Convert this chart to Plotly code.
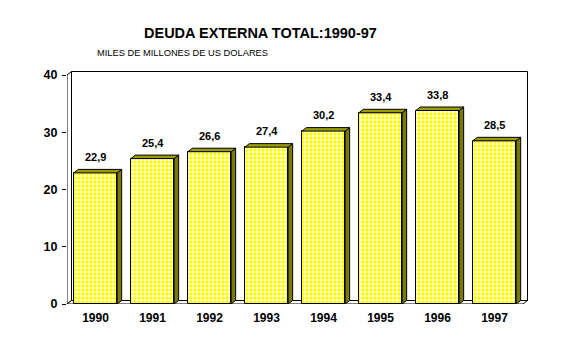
import plotly.graph_objects as go

years = ["1990", "1991", "1992", "1993", "1994", "1995", "1996", "1997"]
values = [22.9, 25.4, 26.6, 27.4, 30.2, 33.4, 33.8, 28.5]
labels = ["22,9", "25,4", "26,6", "27,4", "30,2", "33,4", "33,8", "28,5"]
y_ticks = [0, 10, 20, 30, 40]

W, H = 571, 350
ml, mr, mt, mb = 67, 41, 70, 46
n = len(years)
x0, x1 = -0.5, n - 0.5
ymax = 40
plot_w = W - ml - mr
plot_h = H - mt - mb
px_per_x = (W - ml - 48) / n          # category band width in px
px_per_y = (H - mb - 75) / ymax       # 0 at bottom, 40 at y=75
xr = [x0, x0 + plot_w / px_per_x]
yr = [0, plot_h / px_per_y]

DX = 4.5 / px_per_x
DY = 3.5 / px_per_y
BW = 0.76
FONT = "Liberation Sans, Arial, sans-serif"


def px_to_paper(px, py):
    return (px - ml) / plot_w, (H - mb - py) / plot_h


fig = go.Figure()

fig.add_trace(go.Bar(
    x=list(range(n)), y=values, width=BW,
    marker=dict(color="#FFFF00", line=dict(color="black", width=1),
                pattern=dict(shape=".", bgcolor="#FFFF00", fgcolor="white",
                             size=4, solidity=0.45, fillmode="replace")),
    hoverinfo="skip", showlegend=False,
))

for i, v in enumerate(values):
    r = i + BW / 2
    l = i - BW / 2
    # side face
    fig.add_trace(go.Scatter(
        x=[r, r + DX, r + DX, r, r], y=[0, DY, v + DY, v, 0],
        mode="lines", fill="toself", fillcolor="#7A7A00",
        line=dict(color="black", width=1), hoverinfo="skip", showlegend=False))
    # top face
    fig.add_trace(go.Scatter(
        x=[l, r, r + DX, l + DX, l], y=[v, v, v + DY, v + DY, v],
        mode="lines", fill="toself", fillcolor="#9C9C00",
        line=dict(color="black", width=1), hoverinfo="skip", showlegend=False))

shapes = [
    # back wall
    dict(type="rect", xref="x", yref="y", x0=x0 + DX, y0=DY, x1=x1 + DX, y1=ymax + DY,
         fillcolor="white", line=dict(color="black", width=1), layer="below"),
    # left wall
    dict(type="path", xref="x", yref="y",
         path=f"M {x0},0 L {x0},{ymax} L {x0+DX},{ymax+DY} L {x0+DX},{DY} Z",
         fillcolor="white", line=dict(color="black", width=1), layer="below"),
    # floor
    dict(type="path", xref="x", yref="y",
         path=f"M {x0},0 L {x1},0 L {x1+DX},{DY} L {x0+DX},{DY} Z",
         fillcolor="white", line=dict(color="black", width=1), layer="below"),
]

annotations = []
for i, (v, t) in enumerate(zip(values, labels)):
    annotations.append(dict(x=i, y=v, xref="x", yref="y", text=f"<b>{t}</b>",
                            showarrow=False, yanchor="bottom", yshift=8,
                            font=dict(family=FONT, size=11, color="black")))
tx, ty = px_to_paper(260, 33)
annotations.append(dict(x=tx, y=ty, xref="paper", yref="paper",
                        text="<b>DEUDA EXTERNA TOTAL:1990-97</b>", showarrow=False,
                        xanchor="center", yanchor="middle",
                        font=dict(family=FONT, size=14.5, color="black")))
sx, sy = px_to_paper(95, 53)
annotations.append(dict(x=sx, y=sy, xref="paper", yref="paper",
                        text="MILES DE MILLONES DE US DOLARES", showarrow=False,
                        xanchor="left", yanchor="middle",
                        font=dict(family=FONT, size=9.3, color="black")))

fig.update_layout(
    width=W, height=H,
    margin=dict(l=ml, r=mr, t=mt, b=mb, pad=0),
    paper_bgcolor="white", plot_bgcolor="white",
    shapes=shapes, annotations=annotations,
    bargap=0,
    xaxis=dict(range=xr, tickvals=list(range(n)), ticktext=[f"<b>{y}</b>" for y in years],
               showgrid=False, zeroline=False, showline=False, ticks="",
               ticklabelstandoff=5,
               tickfont=dict(family=FONT, size=12, color="black"), fixedrange=True),
    yaxis=dict(range=yr, tickvals=y_ticks, ticktext=[f"<b>{t}</b>" for t in y_ticks],
               showgrid=False, zeroline=False, showline=False,
               ticks="outside", ticklen=4, tickcolor="black", tickwidth=1,
               ticklabelstandoff=2,
               tickfont=dict(family=FONT, size=12.5, color="black"), fixedrange=True),
)

fig.write_html("out.html", config={"displayModeBar": False})
